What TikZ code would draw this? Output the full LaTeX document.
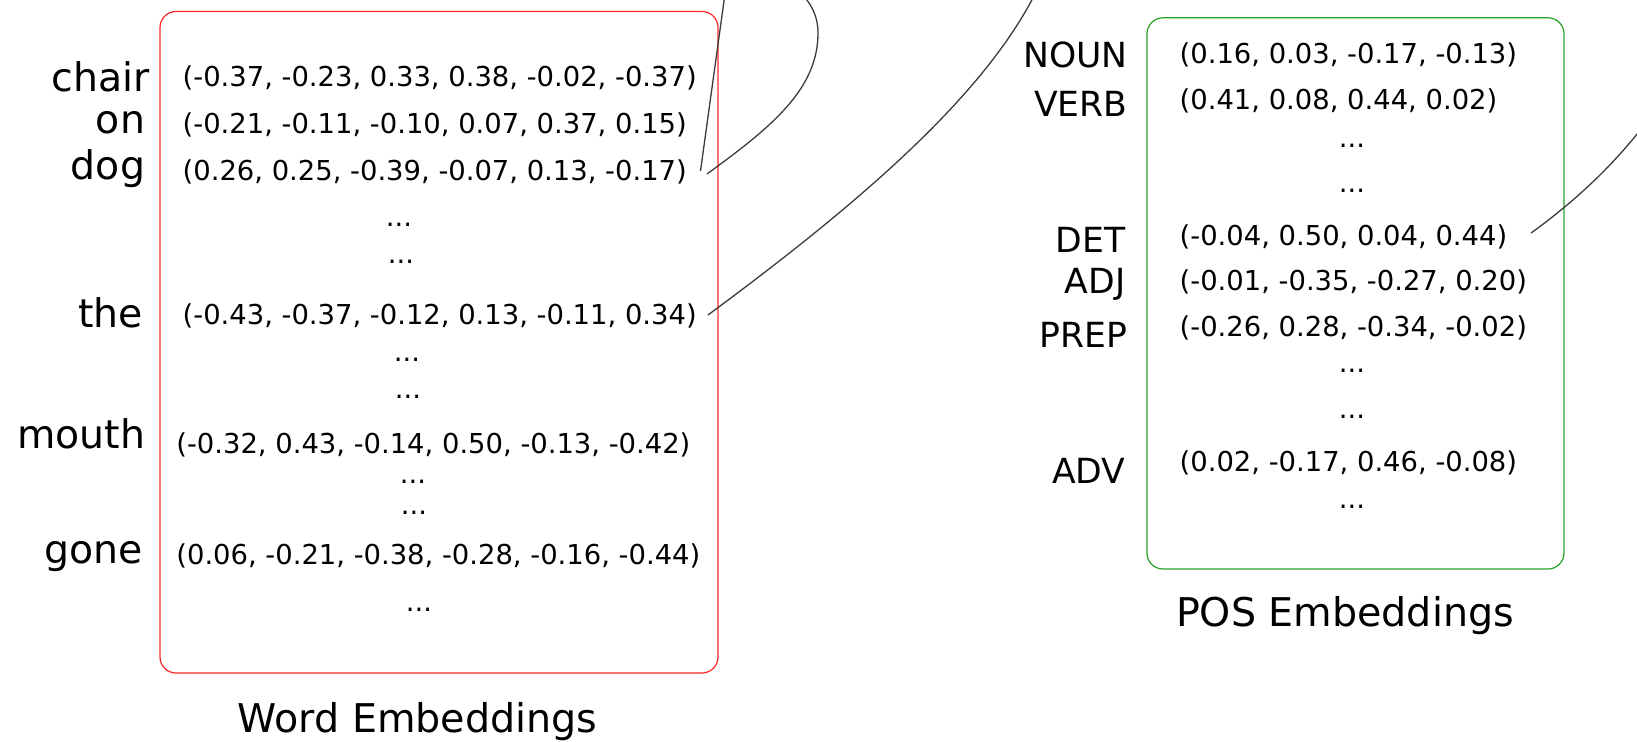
\documentclass[tikz,border=0pt]{standalone}
\usepackage{fontspec}
\setmainfont{DejaVu Sans}
\begin{document}
\begin{tikzpicture}[x=0.5pt,y=-0.5pt,
  every node/.style={inner sep=0pt, outer sep=0pt, text=black},
  vec/.style={font=\fontsize{13.7pt}{16pt}\selectfont, anchor=base west},
  dots/.style={font=\fontsize{13.7pt}{16pt}\selectfont, anchor=base},
  wlabel/.style={font=\fontsize{19.7pt}{22pt}\selectfont, anchor=base east},
  plabel/.style={font=\fontsize{17.3pt}{20pt}\selectfont, anchor=base east},
  caption/.style={font=\fontsize{19.8pt}{22pt}\selectfont, anchor=base},
  tablebox/.style={draw, line width=0.6pt, rounded corners=8pt, fill=none},
  link/.style={draw={rgb,255:red,60;green,60;blue,60}, line width=0.65pt}
]
\useasboundingbox (0,0) rectangle (1637,742);
\clip (0,0) rectangle (1637,742);

% boxes
\node[tablebox, draw={rgb,255:red,255;green,40;blue,40}, minimum width=279pt, minimum height=330.75pt] (wordbox) at (439,342.25) {};
\node[tablebox, draw={rgb,255:red,40;green,160;blue,40}, minimum width=208.5pt, minimum height=275.6pt] (posbox) at (1355.5,293.4) {};

% word labels
\node[wlabel] (lchair) at (149.5,92) {chair};
\node[wlabel] (lon) at (145,134) {on};
\node[wlabel] (ldog) at (145,180) {dog};
\node[wlabel] (lthe) at (143,328) {the};
\node[wlabel] (lmouth) at (145,449) {mouth};
\node[wlabel] (lgone) at (143,563) {gone};

% word vectors
\node[vec] (vchair) at (182.7,86.5) {(-0.37, -0.23, 0.33, 0.38, -0.02, -0.37)};
\node[vec] (von) at (182.7,133.5) {(-0.21, -0.11, -0.10, 0.07, 0.37, 0.15)};
\node[vec] (vdog) at (182.7,180.5) {(0.26, 0.25, -0.39, -0.07, 0.13, -0.17)};
\node[dots] (wd1) at (399,227) {...};
\node[dots] (wd2) at (401,264) {...};
\node[vec] (vthe) at (182.7,325) {(-0.43, -0.37, -0.12, 0.13, -0.11, 0.34)};
\node[dots] (wd3) at (407,362) {...};
\node[dots] (wd4) at (408,399) {...};
\node[vec] (vmouth) at (176.4,453.5) {(-0.32, 0.43, -0.14, 0.50, -0.13, -0.42)};
\node[dots] (wd5) at (413,484) {...};
\node[dots] (wd6) at (414,515) {...};
\node[vec] (vgone) at (176.4,564) {(0.06, -0.21, -0.38, -0.28, -0.16, -0.44)};
\node[dots] (wd7) at (419,611) {...};

\node[caption] (wcap) at (417.6,732) {Word Embeddings};

% POS labels
\node[plabel] (pnoun) at (1127.5,68) {NOUN};
\node[plabel] (pverb) at (1127.5,117) {VERB};
\node[plabel] (pdet) at (1125.5,253) {DET};
\node[plabel] (padj) at (1125.5,294) {ADJ};
\node[plabel] (pprep) at (1127.5,348) {PREP};
\node[plabel] (padv) at (1125.5,484) {ADV};

% POS vectors
\node[vec] (qnoun) at (1179.7,64) {(0.16, 0.03, -0.17, -0.13)};
\node[vec] (qverb) at (1179.7,110) {(0.41, 0.08, 0.44, 0.02)};
\node[dots] (pd1) at (1352,148) {...};
\node[dots] (pd2) at (1352,193) {...};
\node[vec] (qdet) at (1179.7,246) {(-0.04, 0.50, 0.04, 0.44)};
\node[vec] (qadj) at (1179.7,291) {(-0.01, -0.35, -0.27, 0.20)};
\node[vec] (qprep) at (1179.7,337) {(-0.26, 0.28, -0.34, -0.02)};
\node[dots] (pd3) at (1352,373) {...};
\node[dots] (pd4) at (1352,419) {...};
\node[vec] (qadv) at (1179.7,472) {(0.02, -0.17, 0.46, -0.08)};
\node[dots] (pd5) at (1352,509) {...};

\node[caption] (pcap) at (1345,626) {POS Embeddings};

% connectors (free ends leave the picture)
\coordinate (a1) at (700.5,171);
\coordinate (a1end) at (725.5,-10);
\coordinate (a2) at (707,174);
\coordinate (a2top) at (818,33);
\coordinate (a2end) at (800,-8);
\coordinate (a3) at (708,315);
\coordinate (a3end) at (1036,-8);
\coordinate (a4) at (1531,233);
\coordinate (a4end) at (1648,120);

\draw[link] (a1) -- (a1end);
\draw[link] (a2) .. controls (770,128) and (818,90) .. (a2top) .. controls (818,15) and (810,2) .. (a2end);
\draw[link] (a3) .. controls (850,210) and (982,100) .. (a3end);
\draw[link] (a4) .. controls (1570,205) and (1612,168) .. (a4end);
\end{tikzpicture}
\end{document}
